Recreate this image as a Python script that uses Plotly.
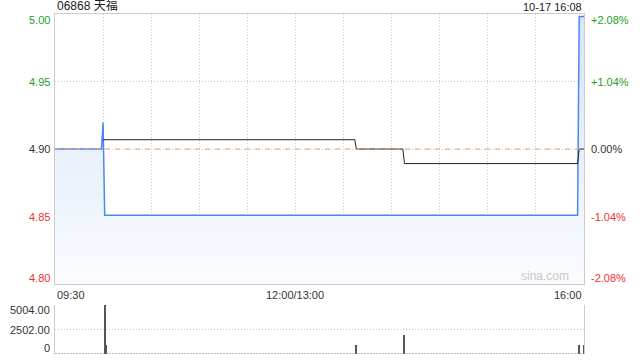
import plotly.graph_objects as go

# ---------------- data ----------------
title_text = "06868 天福"
stamp_text = "10-17 16:08"
prev_close = 4.90

price_times = ["09:30", "09:59", "10:00", "10:01", "15:56", "15:57", "16:00"]
price_vals = [4.90, 4.90, 4.92, 4.85, 4.85, 5.00, 5.00]

avg_times = ["10:00", "13:37", "13:38", "14:07", "14:08", "15:56", "15:57", "16:00"]
avg_vals = [4.907, 4.907, 4.90, 4.90, 4.889, 4.889, 4.90, 4.90]

vol_times = ["10:01", "10:02", "13:38", "14:08", "15:57", "16:00"]
vol_vals = [5004, 920, 900, 1940, 900, 900]

pct_ticks = [-2.08, -1.04, 0.0, 1.04, 2.08]
price_tick_labels = ["4.80", "4.85", "4.90", "4.95", "5.00"]
pct_tick_labels = ["-2.08%", "-1.04%", "0.00%", "+1.04%", "+2.08%"]
vol_ticks = [0, 2502, 5004]
vol_tick_labels = ["0", "2502.00", "5004.00"]
time_labels = ["09:30", "12:00/13:00", "16:00"]
time_label_pos = ["09:30", "12:00", "16:00"]

GREEN = "#1f9e1f"
RED = "#f03232"
DARK = "#333333"
FONT = "Liberation Sans, Arial, Noto Sans CJK SC, sans-serif"


def tmin(s):
    h, m = map(int, s.split(":"))
    v = h * 60 + m
    return v - 570 if v <= 720 else v - 780 + 150


def col_for(p):
    return GREEN if p > 0 else (RED if p < 0 else DARK)


px_ = [tmin(t) for t in price_times]
ax_ = [tmin(t) for t in avg_times]
vx_ = [tmin(t) for t in vol_times]

ymin = prev_close * (1 + pct_ticks[0] / 100)
ymax = prev_close * (1 + pct_ticks[-1] / 100)
price_tickvals = [prev_close * (1 + p / 100) for p in pct_ticks]

fig = go.Figure()

fig.add_trace(go.Scatter(
    x=px_, y=price_vals, mode="lines",
    line=dict(color="#4f86ee", width=1.5),
    fill="tozeroy",
    fillgradient=dict(type="vertical", start=ymin, stop=ymax,
                      colorscale=[[0, "#fafcff"], [1, "#d6e4fa"]]),
    xaxis="x", yaxis="y", hoverinfo="skip", showlegend=False,
))
fig.add_trace(go.Scatter(
    x=ax_, y=avg_vals, mode="lines",
    line=dict(color="#222222", width=1),
    xaxis="x", yaxis="y", hoverinfo="skip", showlegend=False,
))
fig.add_trace(go.Bar(
    x=vx_, y=vol_vals, width=0.7,
    marker=dict(color="#555555", line=dict(width=0)),
    xaxis="x2", yaxis="y2", hoverinfo="skip", showlegend=False,
))

grid_vals = list(range(0, 331, 30))
main_dom = [70 / 340, 1]
vol_dom = [0, 49 / 340]
GRID_DASH = "1px,2px"

fig.update_layout(
    width=640, height=360,
    margin=dict(l=55, r=56, t=14, b=6, autoexpand=False),
    paper_bgcolor="white", plot_bgcolor="white",
    font=dict(family=FONT, size=11, color=DARK),
    bargap=0,
    xaxis=dict(domain=[0, 1], anchor="y", range=[0, 330], automargin=False,
               tickvals=grid_vals, showticklabels=False, ticks="",
               showgrid=True, gridcolor="#c8c8c8", griddash=GRID_DASH, gridwidth=1,
               showline=True, linecolor="#cccccc", linewidth=1, mirror=True,
               zeroline=False),
    yaxis=dict(domain=main_dom, anchor="x", range=[ymin, ymax], automargin=False,
               tickvals=price_tickvals, showticklabels=False, ticks="",
               showgrid=True, gridcolor="#c8c8c8", griddash=GRID_DASH, gridwidth=1,
               showline=True, linecolor="#cccccc", linewidth=1, mirror=True,
               zeroline=False),
    xaxis2=dict(domain=[0, 1], anchor="y2", range=[0, 330], automargin=False,
                showticklabels=False, ticks="", showgrid=False,
                showline=False, zeroline=False),
    yaxis2=dict(domain=vol_dom, anchor="x2", range=[0, 5004], automargin=False,
                tickvals=vol_ticks, showticklabels=False, ticks="",
                showgrid=True, gridcolor="#c8c8c8", griddash=GRID_DASH, gridwidth=1,
                showline=True, linecolor="#cccccc", linewidth=1, mirror=True,
                zeroline=False),
)

fig.add_shape(type="line", xref="x domain", yref="y", x0=0, x1=1,
              y0=prev_close, y1=prev_close,
              line=dict(color="#f4a062", width=1, dash="5px,5px"))
fig.add_shape(type="line", xref="x2 domain", yref="y2", x0=0, x1=1, y0=0, y1=0,
              line=dict(color="#777777", width=1, dash="2px,1px"))

# y tick labels (edge labels nudged inside like the original)
n = len(pct_ticks)
for i, (p, v, lt, rt) in enumerate(zip(pct_ticks, price_tickvals, price_tick_labels, pct_tick_labels)):
    ys = 6 if i == 0 else (-6 if i == n - 1 else 0)
    fig.add_annotation(text=lt, xref="paper", yref="y", x=0, y=v, xanchor="right",
                       yanchor="middle", xshift=-3, yshift=ys, showarrow=False,
                       font=dict(size=11, color=col_for(p), family=FONT))
    fig.add_annotation(text=rt, xref="paper", yref="y", x=1, y=v, xanchor="left",
                       yanchor="middle", xshift=5, yshift=ys, showarrow=False,
                       font=dict(size=11, color=col_for(p), family=FONT))
for i, (v, t) in enumerate(zip(vol_ticks, vol_tick_labels)):
    ys = 6 if i == 0 else (-5 if i == len(vol_ticks) - 1 else 0)
    fig.add_annotation(text=t, xref="paper", yref="y2", x=0, y=v, xanchor="right",
                       yanchor="middle", xshift=-3, yshift=ys, showarrow=False,
                       font=dict(size=11, color=DARK, family=FONT))

fig.add_annotation(text=title_text, xref="paper", yref="paper", x=0, y=1,
                   xanchor="left", yanchor="bottom", yshift=-1, showarrow=False,
                   font=dict(size=12, color="#222222", family=FONT))
fig.add_annotation(text=stamp_text, xref="paper", yref="paper", x=1, y=1,
                   xanchor="right", yanchor="bottom", yshift=-1, showarrow=False,
                   font=dict(size=11, color="#222222", family=FONT))
fig.add_annotation(text="sina.com", xref="paper", yref="paper", x=0.975, y=main_dom[0],
                   xanchor="right", yanchor="bottom", yshift=-1, showarrow=False,
                   font=dict(size=12, color="#c8c8c8", family=FONT))
anchors = ["left", "center", "right"]
for lab, pos, anc in zip(time_labels, time_label_pos, anchors):
    fig.add_annotation(text=lab, xref="x", yref="paper", x=tmin(pos), y=main_dom[0],
                       xanchor=anc, yanchor="top", yshift=-3, showarrow=False,
                       font=dict(size=11, color=DARK, family=FONT))

fig.write_html("out.html", config={"displayModeBar": False},
               post_script="document.body.style.margin='0';document.body.style.overflow='hidden';")
